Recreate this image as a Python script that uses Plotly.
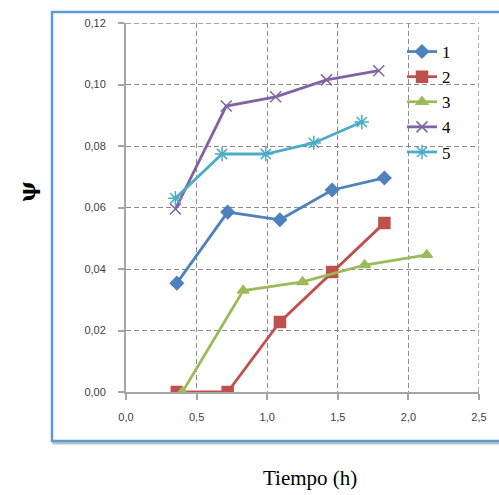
import plotly.graph_objects as go

series_names = ["1", "2", "3", "4", "5"]
x1 = [0.36, 0.72, 1.09, 1.46, 1.83]
y1 = [0.0354, 0.0585, 0.0560, 0.0657, 0.0696]
x2 = [0.36, 0.72, 1.09, 1.46, 1.83]
y2 = [0.0, 0.0, 0.0228, 0.0390, 0.0550]
x3 = [0.40, 0.83, 1.25, 1.69, 2.13]
y3 = [0.0, 0.0330, 0.0358, 0.0413, 0.0446]
x4 = [0.35, 0.71, 1.06, 1.42, 1.79]
y4 = [0.0595, 0.0930, 0.0960, 0.1015, 0.1045]
x5 = [0.35, 0.68, 0.99, 1.33, 1.67]
y5 = [0.0630, 0.0774, 0.0774, 0.0810, 0.0878]

xs = [x1, x2, x3, x4, x5]
ys = [y1, y2, y3, y4, y5]
colors = ["#4F81BD", "#C0504D", "#9BBB59", "#8064A2", "#4BACC6"]
symbols = ["diamond", "square", "triangle-up", "x-thin-open", "asterisk-open"]
msizes = [10, 11, 10, 11, 12]

x_range = [0, 2.5]
y_range = [0, 0.12]

fig = go.Figure()
for name, x, y, c, s, ms in zip(series_names, xs, ys, colors, symbols, msizes):
    fig.add_trace(go.Scatter(
        x=x, y=y, name=name, mode="lines+markers",
        line=dict(color=c, width=2.8),
        marker=dict(symbol=s, size=ms, color=c, line=dict(color=c, width=1.5)),
    ))

W, H = 499, 495
L, R, T, B = 126, 20, 23, 103
pw, ph = W - L - R, H - T - B

def px_to_paper_x(px):
    return (px - L) / pw

def px_to_paper_y(py):
    return (H - B - py) / ph

grid_color = "#8A8A8A"
grid_dash = "5px,3px"

shapes = [
    # shadow
    dict(type="rect", xref="paper", yref="paper", layer="below",
         x0=px_to_paper_x(54), x1=px_to_paper_x(520), y0=px_to_paper_y(14), y1=px_to_paper_y(443),
         line=dict(color="rgba(150,150,150,0.6)", width=3), fillcolor="rgba(0,0,0,0)"),
    dict(type="rect", xref="paper", yref="paper", layer="below",
         x0=px_to_paper_x(52), x1=px_to_paper_x(520), y0=px_to_paper_y(12), y1=px_to_paper_y(441),
         line=dict(color="#5B9BD5", width=2.5), fillcolor="white"),
    # top and right border gridlines
    dict(type="line", xref="x", yref="y", layer="below",
         x0=x_range[0], x1=x_range[1], y0=y_range[1], y1=y_range[1],
         line=dict(color=grid_color, width=1.3, dash=grid_dash)),
    dict(type="line", xref="x", yref="y", layer="below",
         x0=x_range[1], x1=x_range[1], y0=y_range[0], y1=y_range[1],
         line=dict(color=grid_color, width=1.3, dash=grid_dash)),
]

fig.update_layout(
    width=W, height=H,
    margin=dict(l=L, r=R, t=T, b=B),
    paper_bgcolor="white", plot_bgcolor="white",
    separators=",.",
    shapes=shapes,
    showlegend=True,
    legend=dict(x=px_to_paper_x(402), y=px_to_paper_y(34), xanchor="left", yanchor="top",
                font=dict(family="Liberation Serif", size=17, color="#000"),
                bgcolor="rgba(0,0,0,0)", tracegroupgap=0, itemwidth=30),
    xaxis=dict(range=x_range, dtick=0.5, tickformat=".1f",
               showgrid=True, gridcolor=grid_color, griddash=grid_dash, gridwidth=1.3,
               zeroline=False, showline=True, linecolor="#A6A6A6", linewidth=2,
               ticks="outside", ticklen=6, tickcolor="#A6A6A6", tickwidth=2,
               tickfont=dict(family="Liberation Sans", size=11, color="#404040"),
               ticklabelstandoff=8),
    yaxis=dict(range=y_range, dtick=0.02, tickformat=".2f",
               showgrid=True, gridcolor=grid_color, griddash=grid_dash, gridwidth=1.3,
               zeroline=False, showline=True, linecolor="#A6A6A6", linewidth=2,
               ticks="outside", ticklen=6, tickcolor="#A6A6A6", tickwidth=2,
               tickfont=dict(family="Liberation Sans", size=11, color="#404040"),
               ticklabelstandoff=10),
    annotations=[
        dict(text="<b>ψ</b>", xref="paper", yref="paper", x=px_to_paper_x(27), y=px_to_paper_y(192),
             showarrow=False, textangle=-90, font=dict(family="DejaVu Serif", size=22, color="#000"),
             xanchor="center", yanchor="middle"),
        dict(text="Tiempo (h)", xref="paper", yref="paper", x=px_to_paper_x(310), y=px_to_paper_y(478),
             showarrow=False, font=dict(family="Liberation Serif", size=21, color="#000"),
             xanchor="center", yanchor="middle"),
    ],
)

fig.write_html("out.html")
